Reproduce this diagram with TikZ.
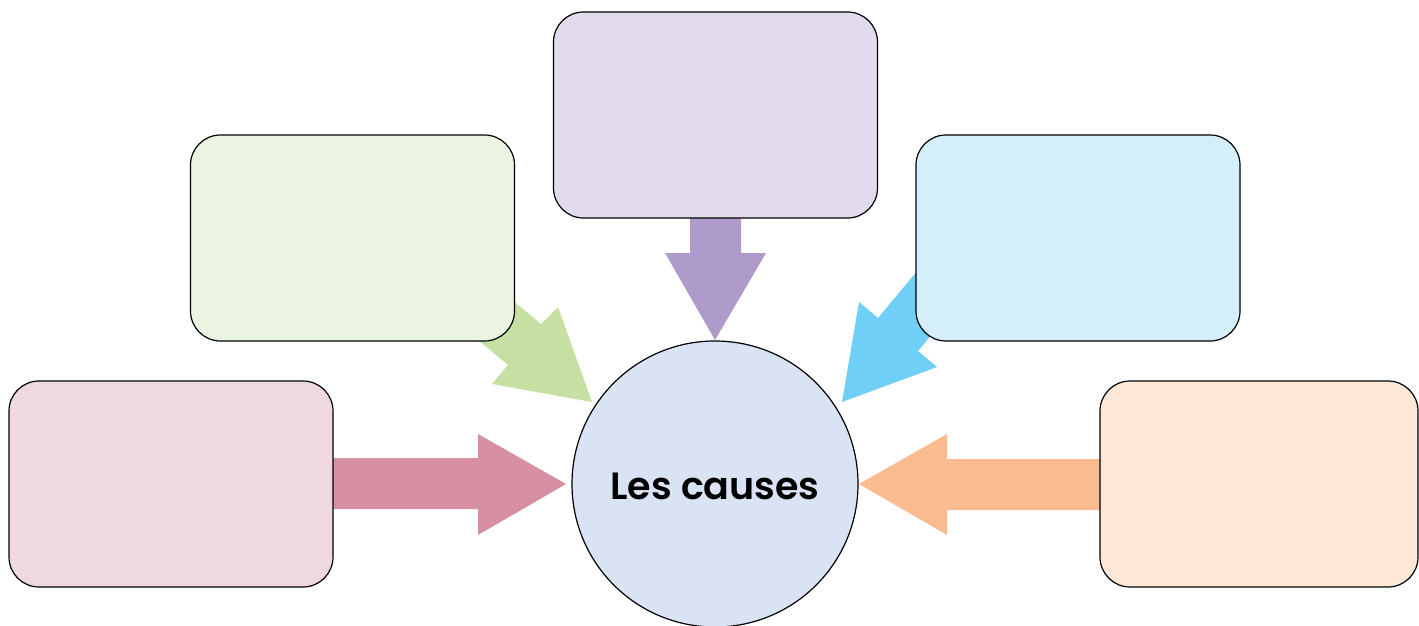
\documentclass[tikz,border=0pt]{standalone}
\usepackage{fontspec}
\setmainfont{Poppins}
\IfFontExistsTF{Poppins SemiBold}{\newfontfamily\labelfont{Poppins SemiBold}}{\newfontfamily\labelfont{Poppins}[UprightFont=*-Bold]}
\begin{document}
\begin{tikzpicture}[x=1pt,y=-1pt,
  causebox/.style={draw=black,line width=1.2pt,rounded corners=30pt,minimum width=324pt,minimum height=206pt,inner sep=0pt},
  blockarrow/.style={draw=none}]
\definecolor{purpleBox}{HTML}{E1DBED}\definecolor{purpleArr}{HTML}{AE9ACB}
\definecolor{greenBox}{HTML}{EBF3E1}\definecolor{greenArr}{HTML}{C6E0A3}
\definecolor{blueBox}{HTML}{D4EEFA}\definecolor{blueArr}{HTML}{6FCFF6}
\definecolor{pinkBox}{HTML}{EFD8DF}\definecolor{pinkArr}{HTML}{D68FA3}
\definecolor{orangeBox}{HTML}{FDE8D7}\definecolor{orangeArr}{HTML}{FABB91}
\definecolor{circleFill}{HTML}{DAE3F4}
\useasboundingbox (0,0) rectangle (1419,626);
\begin{scope}
\clip (0,0) rectangle (1419,626);
% centre
\node[circle,draw=black,line width=1.2pt,fill=circleFill,minimum size=286pt,inner sep=0pt] (center) at (715,484) {};
\node (label) at (715,486) {\fontsize{38}{42}\labelfont Les causes};
% arrows
\fill[purpleArr,blockarrow] (690,200) -- (741,200) -- (741,253) -- (766,253) -- (715,340) -- (665,253) -- (690,253) -- cycle;
\fill[pinkArr,blockarrow] (320,458) -- (478,458) -- (478,434) -- (566,484) -- (478,535) -- (478,509) -- (320,509) -- cycle;
\fill[orangeArr,blockarrow] (1110,459) -- (947,459) -- (947,434) -- (859,484) -- (947,535) -- (947,510) -- (1110,510) -- cycle;
\fill[greenArr,blockarrow] (487,279) -- (541,324) -- (558,307) -- (592,402) -- (492,384) -- (508,365) -- (454,320) -- cycle;
\fill[blueArr,blockarrow] (923,264) -- (878,318) -- (859,302) -- (842,402) -- (937,367) -- (918,351) -- (963,297) -- cycle;
% boxes
\node[causebox,fill=purpleBox] (top) at (715.5,115) {};
\node[causebox,fill=greenBox] (upleft) at (352.5,238) {};
\node[causebox,fill=blueBox] (upright) at (1078,238) {};
\node[causebox,fill=pinkBox] (lowleft) at (171,484) {};
\node[causebox,fill=orangeBox,minimum width=318pt] (lowright) at (1259,484) {};
\end{scope}
\end{tikzpicture}
\end{document}
